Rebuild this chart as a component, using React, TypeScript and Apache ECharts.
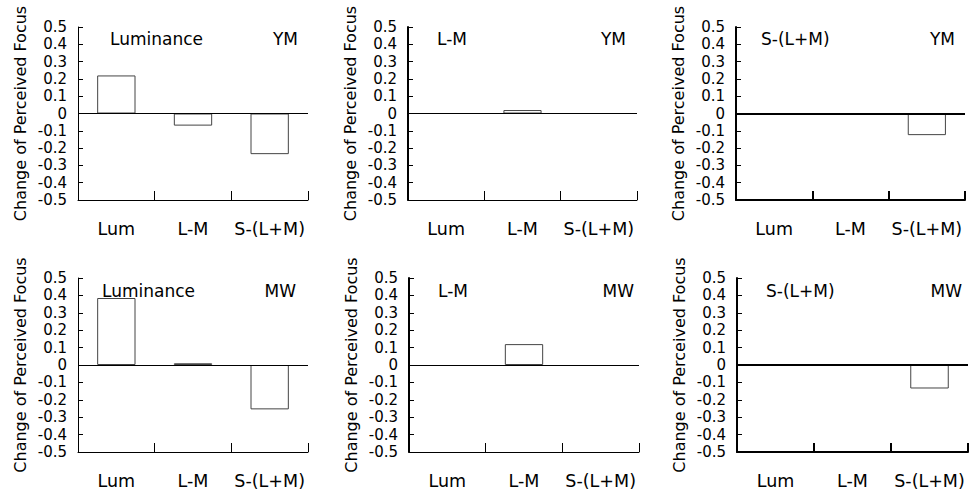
import React, { useEffect, useRef } from "react";
import * as echarts from "echarts";

const categories = ["Lum", "L-M", "S-(L+M)"];
const panelTitles = ["Luminance", "L-M", "S-(L+M)", "Luminance", "L-M", "S-(L+M)"];
const panelTags = ["YM", "YM", "YM", "MW", "MW", "MW"];
const ymLuminance = [0.22, -0.07, -0.235];
const ymLM = [0, 0.02, 0];
const ymSLM = [0, 0, -0.125];
const mwLuminance = [0.385, 0.01, -0.255];
const mwLM = [0, 0.12, 0];
const mwSLM = [0, 0, -0.135];
const seriesValues = [ymLuminance, ymLM, ymSLM, mwLuminance, mwLM, mwSLM];
const yAxisName = "Change of Perceived Focus";

// layout (pixels)
const grids = [
  { left: 78, top: 27, width: 230, height: 173 },
  { left: 408, top: 27, width: 229, height: 173 },
  { left: 736, top: 27, width: 229, height: 173 },
  { left: 78, top: 278, width: 230, height: 174 },
  { left: 409, top: 278, width: 230, height: 174 },
  { left: 737, top: 278, width: 231, height: 174 },
];
const lineWidths = [
  { y: 1, x: 1, zero: 1 },
  { y: 2, x: 1, zero: 1 },
  { y: 2, x: 2, zero: 2 },
  { y: 1, x: 1, zero: 1 },
  { y: 2, x: 1, zero: 1 },
  { y: 2, x: 2, zero: 2 },
];
const titleLeft = [110, 437, 761, 102, 438, 766];
const tagRight = [298, 626, 955, 296, 634, 962];
const titleTop = [30, 30, 30, 282, 282, 282];

const FONT = "DejaVu Sans";

export default function App() {
  const ref = useRef<HTMLDivElement>(null);
  useEffect(() => {
    if (!ref.current) return;
    const chart = echarts.init(ref.current, undefined, { renderer: "svg" });
    const title: any[] = [];
    const xAxis: any[] = [];
    const yAxis: any[] = [];
    const series: any[] = [];
    grids.forEach((g, i) => {
      const lw = lineWidths[i];
      const ts = { fontFamily: FONT, fontSize: 17, fontWeight: "normal", color: "#000" };
      title.push({ text: panelTitles[i], left: titleLeft[i], top: titleTop[i], padding: 0, textStyle: ts });
      title.push({ text: panelTags[i], right: 970 - tagRight[i], top: titleTop[i], padding: 0, textStyle: ts });
      xAxis.push({
        type: "category",
        gridIndex: i,
        data: categories,
        position: "bottom",
        axisLine: { show: true, onZero: false, lineStyle: { color: "#000", width: lw.x } },
        axisTick: {
          show: true,
          inside: true,
          length: 9,
          interval: 0,
          alignWithLabel: false,
          lineStyle: { color: "#000", width: lw.x },
        },
        axisLabel: { show: true, interval: 0, margin: 20, fontFamily: FONT, fontSize: 17.5, color: "#000" },
        splitLine: { show: false },
      });
      yAxis.push({
        type: "value",
        gridIndex: i,
        min: -0.5,
        max: 0.5,
        interval: 0.1,
        name: yAxisName,
        nameLocation: "middle",
        nameRotate: 90,
        nameGap: 50,
        nameTextStyle: { fontFamily: FONT, fontSize: 16, color: "#000" },
        axisLine: { show: true, lineStyle: { color: "#000", width: lw.y } },
        axisTick: { show: true, inside: true, length: 5, lineStyle: { color: "#000", width: 1 } },
        axisLabel: {
          margin: 11,
          fontFamily: FONT,
          fontSize: 15,
          color: "#000",
          formatter: (v: number) => (Math.abs(v) < 1e-9 ? "0" : v.toFixed(1)),
        },
        splitLine: { show: false },
      });
      series.push({
        type: "bar",
        xAxisIndex: i,
        yAxisIndex: i,
        data: seriesValues[i].map((v) =>
          v === 0 ? { value: v, itemStyle: { borderWidth: 0, opacity: 0 } } : v
        ),
        barWidth: "50%",
        itemStyle: { color: "#fff", borderColor: "#444", borderWidth: 1 },
        markLine: {
          silent: true,
          symbol: "none",
          label: { show: false },
          lineStyle: { color: "#000", width: lw.zero, type: "solid" },
          data: [{ yAxis: 0 }],
        },
      });
    });
    chart.setOption({
      animation: false,
      backgroundColor: "#fff",
      title,
      grid: grids.map((g) => ({ ...g, containLabel: false })),
      xAxis,
      yAxis,
      series,
    });
    return () => chart.dispose();
  }, []);
  return (
    <div
      ref={ref}
      style={{ position: "fixed", left: 0, top: 0, width: 970, height: 491, background: "#fff" }}
    />
  );
}
